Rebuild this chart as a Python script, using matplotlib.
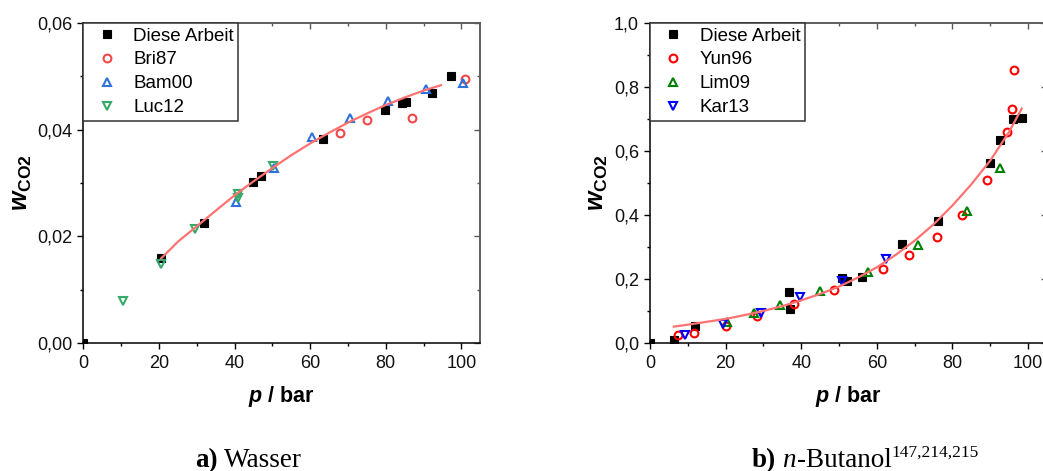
import matplotlib
matplotlib.use("Agg")
import matplotlib.pyplot as plt
from matplotlib.ticker import MultipleLocator, FuncFormatter
from matplotlib.transforms import IdentityTransform
from matplotlib.font_manager import FontProperties

plt.rcParams["font.family"] = ["Liberation Sans", "DejaVu Sans"]
plt.rcParams["mathtext.fontset"] = "custom"
plt.rcParams["mathtext.rm"] = "Liberation Sans"
plt.rcParams["mathtext.it"] = "Liberation Sans:italic"
plt.rcParams["mathtext.bf"] = "Liberation Sans:bold"
plt.rcParams["mathtext.bfit"] = "Liberation Sans:bold:italic"

# ---------------- a) Wasser ----------------
wa_own_p = [0.0, 20.6, 31.9, 44.8, 46.9, 63.5, 79.9, 84.2, 85.3, 92.2, 97.2]
wa_own_w = [0.0, 0.0159, 0.0226, 0.0301, 0.0313, 0.0382, 0.0437, 0.0450, 0.0451, 0.0469, 0.0500]
wa_bri87_p = [67.9, 75.1, 87.0, 101.0]
wa_bri87_w = [0.0394, 0.0417, 0.0422, 0.0494]
wa_bam00_p = [40.4, 50.4, 60.4, 70.5, 80.5, 90.6, 100.5]
wa_bam00_w = [0.0264, 0.0329, 0.0386, 0.0421, 0.0454, 0.0476, 0.0488]
wa_luc12_p = [10.5, 20.6, 29.6, 40.9, 41.0, 50.1]
wa_luc12_w = [0.0079, 0.0149, 0.0214, 0.0272, 0.0279, 0.0332]
wa_fit_p = [20.6, 25, 30, 35, 40, 45, 50, 55, 60, 65, 70, 75, 80, 85, 90, 94.6]
wa_fit_w = [0.0159, 0.0190, 0.0219, 0.0248, 0.0277, 0.0303, 0.0328, 0.0352, 0.0374, 0.0394,
            0.0413, 0.0430, 0.0446, 0.0460, 0.0473, 0.0483]

# ---------------- b) n-Butanol ----------------
bu_own_p = [0.0, 6.3, 11.8, 36.7, 37.0, 50.9, 52.2, 56.0, 66.6, 76.1, 89.9, 92.7, 95.9, 98.3]
bu_own_w = [0.0, 0.010, 0.054, 0.160, 0.108, 0.204, 0.195, 0.208, 0.310, 0.381, 0.563, 0.634, 0.700, 0.703]
bu_yun96_p = [7.4, 11.6, 20.1, 28.2, 38.1, 48.6, 61.5, 68.6, 75.9, 82.5, 89.1, 94.3, 95.7, 96.4]
bu_yun96_w = [0.025, 0.033, 0.054, 0.085, 0.123, 0.166, 0.233, 0.276, 0.332, 0.399, 0.510, 0.658, 0.731, 0.853]
bu_lim09_p = [20.3, 27.5, 34.4, 44.9, 57.6, 70.8, 83.8, 92.5]
bu_lim09_w = [0.065, 0.094, 0.120, 0.163, 0.223, 0.306, 0.413, 0.547]
bu_kar13_p = [9.3, 19.2, 29.3, 39.8, 50.9, 62.3]
bu_kar13_w = [0.027, 0.060, 0.093, 0.145, 0.193, 0.262]
bu_fit_p = [6.3, 10, 15, 20, 25, 30, 35, 40, 45, 50, 55, 60, 65, 70, 75, 80, 85, 90, 95, 98.3]
bu_fit_w = [0.052, 0.058, 0.067, 0.076, 0.088, 0.101, 0.116, 0.134, 0.154, 0.177, 0.205, 0.237,
            0.276, 0.320, 0.371, 0.430, 0.496, 0.570, 0.660, 0.732]

p_ticks = [0, 20, 40, 60, 80, 100]

W, H = 1043, 471
fig = plt.figure(figsize=(W / 100, H / 100), dpi=100)

ax_a = fig.add_axes([83.3 / W, 1 - 343.3 / H, 397 / W, 320.6 / H])
ax_b = fig.add_axes([650 / W, 1 - 343.3 / H, 397 / W, 320.6 / H])

SPINE_GREY = "#5a5a5a"


def comma_fmt(decimals):
    return FuncFormatter(lambda v, pos: f"{v:.{decimals}f}".replace(".", ","))


def style_axes(ax, ymax, ymajor, yminor, decimals, ylabel_x):
    ax.set_xlim(0, 105)
    ax.set_ylim(0, ymax)
    ax.set_xticks(p_ticks)
    ax.xaxis.set_minor_locator(MultipleLocator(10))
    ax.yaxis.set_major_locator(MultipleLocator(ymajor))
    ax.yaxis.set_minor_locator(MultipleLocator(yminor))
    ax.yaxis.set_major_formatter(comma_fmt(decimals))
    ax.tick_params(which="major", direction="out", length=4.5, width=1.0, labelsize=13,
                   colors="black", labelcolor="#111111")
    ax.tick_params(axis="x", which="major", pad=4)
    ax.tick_params(axis="y", which="major", pad=3.5)
    ax.tick_params(which="minor", direction="out", length=2.5, width=1.0, colors="black")
    for side in ("left", "bottom"):
        ax.spines[side].set_linewidth(1.1)
        ax.spines[side].set_color("black")
    for side in ("top", "right"):
        ax.spines[side].set_linewidth(1.1)
        ax.spines[side].set_color(SPINE_GREY)

    top = ax.secondary_xaxis("top")
    top.set_xticks(p_ticks)
    top.xaxis.set_minor_locator(MultipleLocator(10))
    top.tick_params(which="both", direction="in", labeltop=False, colors=SPINE_GREY, width=1.0)
    top.tick_params(which="major", length=4)
    top.tick_params(which="minor", length=2.5)
    top.spines["top"].set_color(SPINE_GREY)
    top.spines["top"].set_linewidth(1.1)

    right = ax.secondary_yaxis("right")
    right.yaxis.set_major_locator(MultipleLocator(ymajor))
    right.yaxis.set_minor_locator(MultipleLocator(yminor))
    right.tick_params(which="both", direction="in", labelright=False, colors=SPINE_GREY, width=1.0)
    right.tick_params(which="major", length=4)
    right.tick_params(which="minor", length=2.5)
    right.spines["right"].set_color(SPINE_GREY)
    right.spines["right"].set_linewidth(1.1)

    ax.set_xlabel(r"$\mathbfit{p}$ / bar", fontsize=15.5, fontweight="bold")
    ax.xaxis.label.set_verticalalignment("center")
    ax.xaxis.set_label_coords(0.5, -0.167)
    ax.set_ylabel(r"$\mathbfit{w}_{\mathbf{CO2}}$", fontsize=18)
    ax.yaxis.label.set_verticalalignment("center")
    ax.yaxis.set_label_coords(ylabel_x, 0.5)


def add_legend(ax):
    leg = ax.legend(loc="upper left", bbox_to_anchor=(0, 1), borderaxespad=0,
                    fontsize=13.5, frameon=True, fancybox=False, framealpha=1,
                    edgecolor="#333333", borderpad=0.25, handlelength=1.98,
                    handletextpad=0.43, labelspacing=0.36, numpoints=1)
    leg.get_frame().set_linewidth(1.1)
    return leg


mk = dict(linestyle="none", markersize=5.6, markeredgewidth=1.5, markerfacecolor="none")
sq = dict(linestyle="none", marker="s", markersize=5.8, color="black", markeredgewidth=0.8)

# a) Wasser
ax_a.plot(wa_own_p, wa_own_w, label="Diese Arbeit", **sq)
ax_a.plot(wa_bri87_p, wa_bri87_w, marker="o", markeredgecolor="#f04848", label="Bri87", **mk)
ax_a.plot(wa_bam00_p, wa_bam00_w, marker="^", markeredgecolor="#2f72dc", label="Bam00", **mk)
ax_a.plot(wa_luc12_p, wa_luc12_w, marker="v", markeredgecolor="#35a968", label="Luc12", **mk)
ax_a.plot(wa_fit_p, wa_fit_w, color="#ff7272", lw=1.6, zorder=5)
style_axes(ax_a, 0.06, 0.02, 0.01, 2, -0.155)
add_legend(ax_a)

# b) n-Butanol
ax_b.plot(bu_own_p, bu_own_w, label="Diese Arbeit", **sq)
ax_b.plot(bu_yun96_p, bu_yun96_w, marker="o", markeredgecolor="#ff0000", label="Yun96", **mk)
ax_b.plot(bu_lim09_p, bu_lim09_w, marker="^", markeredgecolor="#008000", label="Lim09", **mk)
ax_b.plot(bu_kar13_p, bu_kar13_w, marker="v", markeredgecolor="#0000ff", label="Kar13", **mk)
ax_b.plot(bu_fit_p, bu_fit_w, color="#ff7272", lw=1.6, zorder=5)
style_axes(ax_b, 1.0, 0.2, 0.1, 1, -0.131)
add_legend(ax_b)


# Sub-figure captions built from runs of differently styled text
def caption(runs, x_left, baseline_from_top):
    renderer = fig.canvas.get_renderer()
    x = x_left
    for text, props, gap, rise in runs:
        x += gap
        t = fig.text(x, H - baseline_from_top + rise, text, fontproperties=props,
                     transform=IdentityTransform(), va="baseline", ha="left", color="black")
        x += t.get_window_extent(renderer).width


serif_b = FontProperties(family="Liberation Serif", weight="bold", size=19.5)
serif_r = FontProperties(family="Liberation Serif", size=19.5)
serif_i = FontProperties(family="Liberation Serif", style="italic", size=19.5)
serif_s = FontProperties(family="Liberation Serif", size=12.5)

caption([("a)", serif_b, 0, 0), ("Wasser", serif_r, 6.5, 0)], 195, 467)
caption([("b)", serif_b, 0, 0), ("n", serif_i, 6.5, 0), ("-Butanol", serif_r, 0.5, 0),
         ("147,214,215", serif_s, 0.5, 10)], 751.7, 467)

fig.savefig("out.png", dpi=100)
